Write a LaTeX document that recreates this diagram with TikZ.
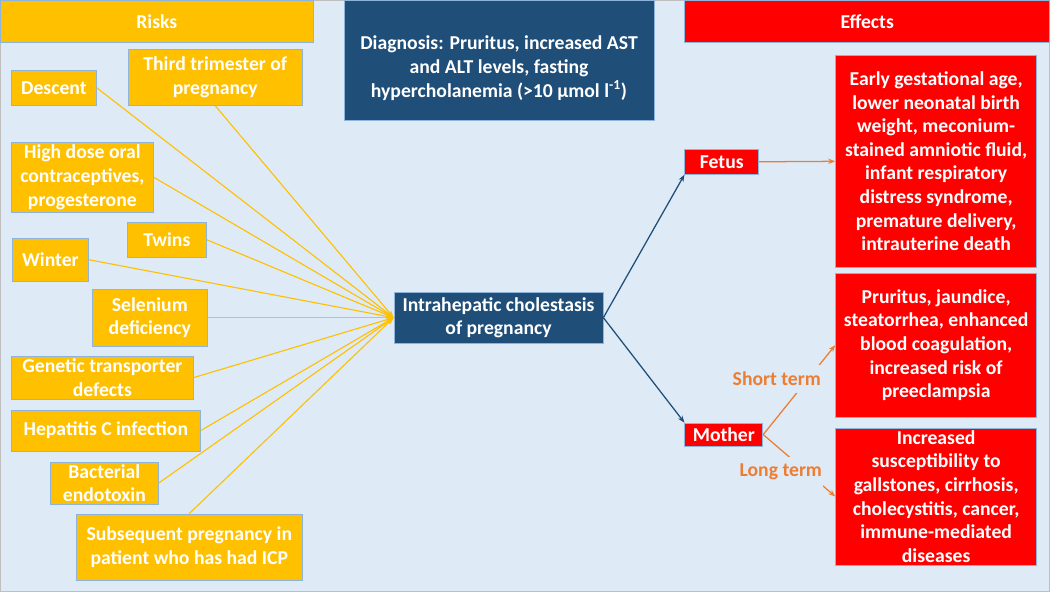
\documentclass[tikz,border=0pt]{standalone}
\usepackage{fontspec}
\setmainfont{Carlito}
\usepackage{tikz}
\usetikzlibrary{arrows.meta}
\definecolor{icpback}{RGB}{222,235,247}
\definecolor{icpyellow}{RGB}{255,192,0}
\definecolor{icpnavy}{RGB}{31,78,121}
\definecolor{icpred}{RGB}{255,0,0}
\definecolor{icporange}{RGB}{237,125,49}
\definecolor{icpedge}{RGB}{143,180,220}

\begin{document}
\begin{tikzpicture}[
  x=0.025cm, y=-0.025cm,
  box/.style={rectangle, draw=icpedge, line width=0.6pt, text=white, align=center, inner sep=1pt, font=\fontsize{14}{16.8}\selectfont\bfseries},
  risk/.style={box, fill=icpyellow},
  effect/.style={box, fill=icpred},
  core/.style={box, fill=icpnavy},
  feed/.style={-{Stealth[length=5pt]}, line width=0.8pt, color=icpyellow},
  branch/.style={-{Stealth[length=5pt]}, line width=0.9pt, color=icpnavy},
  result/.style={-{Stealth[length=5pt]}, line width=0.9pt, color=icporange},
  term/.style={fill=icpback, inner xsep=1pt, inner ysep=5pt, text=icporange, font=\fontsize{14}{16.8}\selectfont\bfseries}
]

% Background
\fill[icpback, draw=black!25, line width=0.6pt] (0,0) rectangle (1050,591);

% Headers
\node[risk, minimum width=7.825cm, minimum height=1.05cm] (risks) at (156.5,21) {Risks};
\node[effect, minimum width=9.125cm, minimum height=1.05cm] (effects) at (867.5,21) {Effects};
\node[core, minimum width=7.75cm, minimum height=3cm] (diagnosis) at (499,60) {\rule{0pt}{21pt}Diagnosis: Pruritus, increased AST\\and ALT levels, fasting\\hypercholanemia (>10 µmol l\textsuperscript{-1})};

% Risk factors
\node[risk, minimum width=2.125cm, minimum height=0.875cm] (descent) at (53.5,87.5) {Descent};
\node[risk, minimum width=4.35cm, minimum height=1.4cm] (trimester) at (215,77) {Third trimester of\\pregnancy};
\node[risk, minimum width=3.55cm, minimum height=1.75cm] (contraceptives) at (82,177) {High dose oral\\contraceptives,\\progesterone};
\node[risk, minimum width=1.975cm, minimum height=0.875cm] (twins) at (166.5,239.5) {Twins};
\node[risk, minimum width=1.9cm, minimum height=1.075cm] (winter) at (50,259.5) {Winter};
\node[risk, minimum width=2.875cm, minimum height=1.425cm] (selenium) at (149.5,317.5) {Selenium\\deficiency};
\node[risk, minimum width=4.55cm, minimum height=1.075cm] (genetic) at (102,377.5) {Genetic transporter\\defects};
\node[risk, minimum width=4.725cm, minimum height=1.025cm] (hepatitis) at (105.5,430.5) {Hepatitis C infection};
\node[risk, minimum width=2.7cm, minimum height=1.05cm] (endotoxin) at (104,483) {Bacterial\\endotoxin};
\node[risk, minimum width=5.65cm, minimum height=1.65cm] (subsequent) at (189,547) {Subsequent pregnancy in\\patient who has had ICP};

% Centre
\node[core, minimum width=5.225cm, minimum height=1.275cm] (icp) at (498.5,317.5) {Intrahepatic cholestasis\\of pregnancy};

% Effects
\node[effect, minimum width=1.85cm, minimum height=0.625cm] (fetus) at (722,161.5) {Fetus};
\node[effect, minimum width=1.95cm, minimum height=0.575cm] (mother) at (724,434.5) {Mother};
\node[effect, minimum width=5.025cm, minimum height=5.3cm] (fetaleffects) at (936.5,161) {Early gestational age,\\lower neonatal birth\\weight, meconium-\\stained amniotic fluid,\\infant respiratory\\distress syndrome,\\premature delivery,\\intrauterine death};
\node[effect, minimum width=5.025cm, minimum height=3.6cm] (shorteffects) at (936.5,345) {Pruritus, jaundice,\\steatorrhea, enhanced\\blood coagulation,\\increased risk of\\preeclampsia};
\node[effect, minimum width=5.025cm, minimum height=3.425cm] (longeffects) at (936.5,496.5) {Increased\\susceptibility to\\gallstones, cirrhosis,\\cholecystitis, cancer,\\immune-mediated\\diseases};

% Risk arrows
\draw[feed] (descent.east) -- (icp.west);
\draw[feed] (trimester.south) -- (icp.west);
\draw[feed] (contraceptives.east) -- (icp.west);
\draw[feed] (twins.east) -- (icp.west);
\draw[feed] (winter.east) -- (icp.west);
\draw[feed] (selenium.east) -- (icp.west);
\draw[feed] (genetic.east) -- (icp.west);
\draw[feed] (hepatitis.east) -- (icp.west);
\draw[feed] (endotoxin.east) -- (icp.west);
\draw[feed] (subsequent.north) -- (icp.west);

% Branches
\draw[branch] (icp.east) -- (fetus.south west);
\draw[branch] (icp.east) -- (mother.north west);
\draw[result] (fetus.east) -- (fetaleffects.west);
\draw[result] (mother.east) -- (shorteffects.west);
\draw[result] (mother.east) -- (longeffects.west);

% Labels
\node[term] (shortlabel) at (777,379) {Short term};
\node[term] (longlabel) at (781,472) {Long term};

\end{tikzpicture}
\end{document}
